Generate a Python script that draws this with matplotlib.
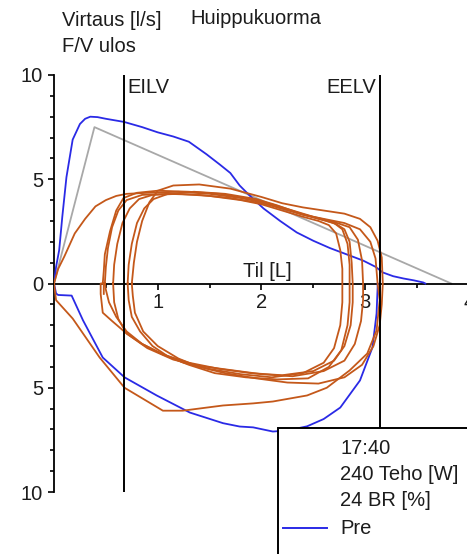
import matplotlib
matplotlib.use("Agg")
import matplotlib.pyplot as plt
from matplotlib.patches import Rectangle
from matplotlib.ticker import FixedLocator, FuncFormatter

plt.rcParams['font.family'] = ['Liberation Sans', 'DejaVu Sans']

# Maximal flow-volume envelope (Pre), volume [L] vs flow [l/s]
pre_exp_vol = [0.00, 0.02, 0.05, 0.08, 0.12, 0.18, 0.25, 0.30, 0.35, 0.42, 0.50, 0.675, 0.85,
               1.00, 1.15, 1.30, 1.47, 1.60, 1.70, 1.79, 1.89, 2.02, 2.18, 2.34, 2.50, 2.66,
               2.82, 2.98, 3.10, 3.17, 3.27, 3.37, 3.47, 3.56, 3.58]
pre_exp_flow = [0.0, 0.8, 1.6, 3.2, 5.1, 6.9, 7.65, 7.9, 8.0, 7.98, 7.9, 7.75, 7.5,
                7.25, 7.05, 6.8, 6.2, 5.7, 5.3, 4.7, 4.2, 3.6, 3.0, 2.45, 2.05, 1.7,
                1.4, 1.1, 0.8, 0.53, 0.35, 0.24, 0.15, 0.05, 0.0]
pre_insp_vol = [3.12, 3.12, 3.11, 3.07, 2.95, 2.76, 2.60, 2.44, 2.25, 2.11, 1.92, 1.79,
                1.63, 1.31, 0.99, 0.68, 0.47, 0.28, 0.17, 0.04, 0.02, 0.00]
pre_insp_flow = [0.0, -0.2, -1.44, -3.07, -4.65, -5.95, -6.5, -6.85, -7.05, -7.1, -6.9, -6.86,
                 -6.7, -6.19, -5.37, -4.5, -3.55, -1.77, -0.58, -0.55, -0.48, 0.0]

# Predicted peak-flow triangle
pred_vol = [0.0, 0.39, 3.83]
pred_flow = [0.0, 7.5, 0.0]

# Tidal breaths at peak load: (volume, flow) pairs
breath1 = [(0.00, 0.0), (0.04, 0.7), (0.10, 1.3), (0.20, 2.4), (0.30, 3.1), (0.40, 3.7),
           (0.50, 4.0), (0.60, 4.2), (0.70, 4.3), (0.90, 4.35), (1.20, 4.4), (1.50, 4.3),
           (1.80, 4.1), (2.00, 3.9), (2.20, 3.6), (2.40, 3.3), (2.60, 3.1), (2.80, 2.9),
           (2.95, 2.6), (3.05, 2.0), (3.10, 1.2), (3.12, 0.0), (3.14, -0.8), (3.11, -2.25),
           (3.02, -3.36), (2.85, -4.17), (2.63, -5.0), (2.44, -5.37), (2.11, -5.66),
           (1.92, -5.75), (1.63, -5.85), (1.24, -6.1), (1.05, -6.1), (0.68, -5.0),
           (0.44, -3.55), (0.18, -1.68), (0.02, -0.8), (0.00, 0.0)]
breath2 = [(0.47, 0.0), (0.48, 0.6), (0.49, 1.4), (0.54, 2.5), (0.60, 3.5), (0.67, 4.1),
           (0.80, 4.35), (1.00, 4.45), (1.30, 4.4), (1.60, 4.3), (1.90, 4.05), (2.10, 3.8),
           (2.30, 3.5), (2.50, 3.2), (2.70, 2.95), (2.85, 2.7), (2.93, 2.1), (2.97, 1.1),
           (2.98, 0.0), (2.98, -0.8), (2.96, -1.8), (2.90, -2.9), (2.80, -3.7), (2.60, -4.2),
           (2.30, -4.45), (2.00, -4.35), (1.70, -4.15), (1.40, -3.95), (1.15, -3.65),
           (0.90, -3.1), (0.70, -2.4), (0.56, -1.8), (0.47, -1.4), (0.45, -0.5),
           (0.45, 0.0), (0.48, 0.0), (0.48, -0.5)]
breath3 = [(0.49, 0.0), (0.50, 0.8), (0.52, 1.7), (0.56, 2.7), (0.62, 3.5), (0.70, 4.0),
           (0.85, 4.25), (1.10, 4.3), (1.40, 4.25), (1.70, 4.1), (2.00, 3.85), (2.20, 3.6),
           (2.40, 3.3), (2.60, 3.05), (2.72, 2.85), (2.80, 2.6), (2.85, 2.0), (2.87, 1.0),
           (2.88, 0.0), (2.88, -0.9), (2.86, -2.0), (2.80, -3.0), (2.70, -3.7), (2.50, -4.2),
           (2.20, -4.4), (1.90, -4.3), (1.60, -4.1), (1.30, -3.8), (1.05, -3.4), (0.85, -2.9),
           (0.70, -2.3), (0.60, -1.6), (0.53, -0.9), (0.50, -0.3), (0.49, 0.0)]
breath4 = [(0.57, 0.0), (0.58, 0.9), (0.61, 1.9), (0.66, 2.9), (0.73, 3.6), (0.82, 4.05),
           (0.95, 4.25), (1.20, 4.3), (1.50, 4.2), (1.80, 4.0), (2.00, 3.8), (2.20, 3.5),
           (2.40, 3.2), (2.55, 3.0), (2.65, 2.8), (2.72, 2.4), (2.76, 1.6), (2.78, 0.7),
           (2.78, 0.0), (2.78, -0.9), (2.76, -2.0), (2.70, -3.1), (2.60, -3.8), (2.40, -4.3),
           (2.10, -4.5), (1.80, -4.35), (1.50, -4.1), (1.25, -3.8), (1.05, -3.4), (0.85, -2.9),
           (0.70, -2.4), (0.62, -1.7), (0.58, -0.9), (0.57, 0.0)]
breath5 = [(0.71, 0.0), (0.72, 0.9), (0.75, 1.9), (0.80, 2.9), (0.87, 3.6), (0.96, 4.05),
           (1.10, 4.3), (1.35, 4.4), (1.65, 4.3), (1.95, 4.05), (2.15, 3.75), (2.35, 3.4),
           (2.55, 3.1), (2.70, 2.9), (2.78, 2.6), (2.83, 1.9), (2.85, 0.9), (2.85, 0.0),
           (2.85, -0.9), (2.83, -2.0), (2.77, -3.2), (2.65, -4.0), (2.45, -4.55), (2.15, -4.6),
           (1.85, -4.5), (1.55, -4.3), (1.30, -3.9), (1.10, -3.5), (0.95, -3.0), (0.83, -2.3),
           (0.75, -1.6), (0.72, -0.8), (0.71, 0.0)]
breath6 = [(0.75, 0.0), (0.77, 1.0), (0.80, 2.0), (0.85, 3.0), (0.92, 3.9), (1.00, 4.45),
           (1.15, 4.7), (1.40, 4.75), (1.70, 4.55), (2.00, 4.15), (2.20, 3.85), (2.40, 3.65),
           (2.60, 3.5), (2.80, 3.35), (2.95, 3.1), (3.05, 2.7), (3.12, 2.05), (3.16, 1.25),
           (3.17, 0.0), (3.16, -1.0), (3.14, -2.0), (3.08, -3.0), (2.97, -3.9), (2.80, -4.5),
           (2.55, -4.8), (2.25, -4.75), (1.95, -4.55), (1.65, -4.3), (1.40, -4.0), (1.20, -3.6),
           (1.00, -3.0), (0.86, -2.3), (0.78, -1.4), (0.76, -0.6), (0.75, 0.0)]
breaths = [breath1, breath2, breath3, breath4, breath5, breath6]

eilv = 0.675
eelv = 3.14

y_ticks = [-10, -5, 0, 5, 10]
x_ticks = [1, 2, 3, 4]

legend_lines = ["17:40", "240 Teho [W]", "24 BR [%]"]
legend_label = "Pre"

TXT = '#1c1c1c'
ORANGE = '#c4581a'
BLUE = '#2a2ae6'
GREY = '#a8a8a8'
FS = 14.5

W, H = 467, 554
fig = plt.figure(figsize=(W / 100, H / 100), dpi=100)
ax = fig.add_axes([54 / W, (H - 492) / H, 446 / W, 417 / H])
ax.set_xlim(0, 4.3)
ax.set_ylim(-10, 10)

for s in ('top', 'right'):
    ax.spines[s].set_visible(False)
ax.spines['bottom'].set_position(('data', 0))
ax.spines['left'].set_linewidth(1.3)
ax.spines['bottom'].set_linewidth(1.3)

ax.yaxis.set_major_locator(FixedLocator(y_ticks))
ax.yaxis.set_minor_locator(FixedLocator([v for v in range(-10, 11) if v % 5]))
ax.yaxis.set_major_formatter(FuncFormatter(lambda v, p: f"{abs(int(v))}"))
ax.xaxis.set_major_locator(FixedLocator(x_ticks))
ax.xaxis.set_minor_locator(FixedLocator([0.5, 1.5, 2.5, 3.5]))
ax.tick_params(axis='both', which='major', direction='out', length=4, width=1.2,
               labelsize=FS, labelcolor=TXT)
ax.tick_params(axis='both', which='minor', direction='out', length=3, width=1.2)
ax.tick_params(axis='x', which='major', pad=3)
ax.tick_params(axis='y', which='major', pad=4)

# predicted triangle and maximal envelope
ax.plot(pred_vol, pred_flow, color=GREY, lw=1.3, zorder=2)
ax.plot(pre_exp_vol, pre_exp_flow, color=BLUE, lw=1.3, zorder=3)
ax.plot(pre_insp_vol, pre_insp_flow, color=BLUE, lw=1.3, zorder=3)

# tidal breaths
for b in breaths:
    ax.plot([p[0] for p in b], [p[1] for p in b], color=ORANGE, lw=1.3, zorder=4)

# lung volume markers
ax.axvline(eilv, color='black', lw=1.4, zorder=5)
ax.axvline(eelv, color='black', lw=1.4, zorder=5)
ax.text(eilv + 0.03, 9.4, "EILV", ha='left', va='center', fontsize=FS, color=TXT)
ax.text(eelv - 0.03, 9.4, "EELV", ha='right', va='center', fontsize=FS, color=TXT)

ax.text(1.82, 0.1, "Til [L]", ha='left', va='bottom', fontsize=FS, color=TXT, zorder=6)

fig.text(62 / W, 1 - 20 / H, "Virtaus [l/s]", ha='left', va='center', fontsize=FS, color=TXT)
fig.text(62 / W, 1 - 47 / H, "F/V ulos", ha='left', va='center', fontsize=FS, color=TXT)
fig.text(190 / W, 1 - 18 / H, "Huippukuorma", ha='left', va='center', fontsize=FS, color=TXT)

# legend panel
box = Rectangle((278 / W, -0.1), 0.5, (H - 428) / H + 0.1, transform=fig.transFigure,
                facecolor='white', edgecolor='black', lw=1.4, zorder=10)
fig.add_artist(box)
for i, t in enumerate(legend_lines):
    fig.text(340 / W, 1 - (448 + 26.5 * i) / H, t, ha='left', va='center',
             fontsize=FS, color=TXT, zorder=11)
fig.add_artist(plt.Line2D([283 / W, 327 / W], [1 - 528 / H, 1 - 528 / H],
                          transform=fig.transFigure, color=BLUE, lw=1.4, zorder=11))
fig.text(340 / W, 1 - 528 / H, legend_label, ha='left', va='center',
         fontsize=FS, color=TXT, zorder=11)

fig.savefig("out.png", dpi=100)
